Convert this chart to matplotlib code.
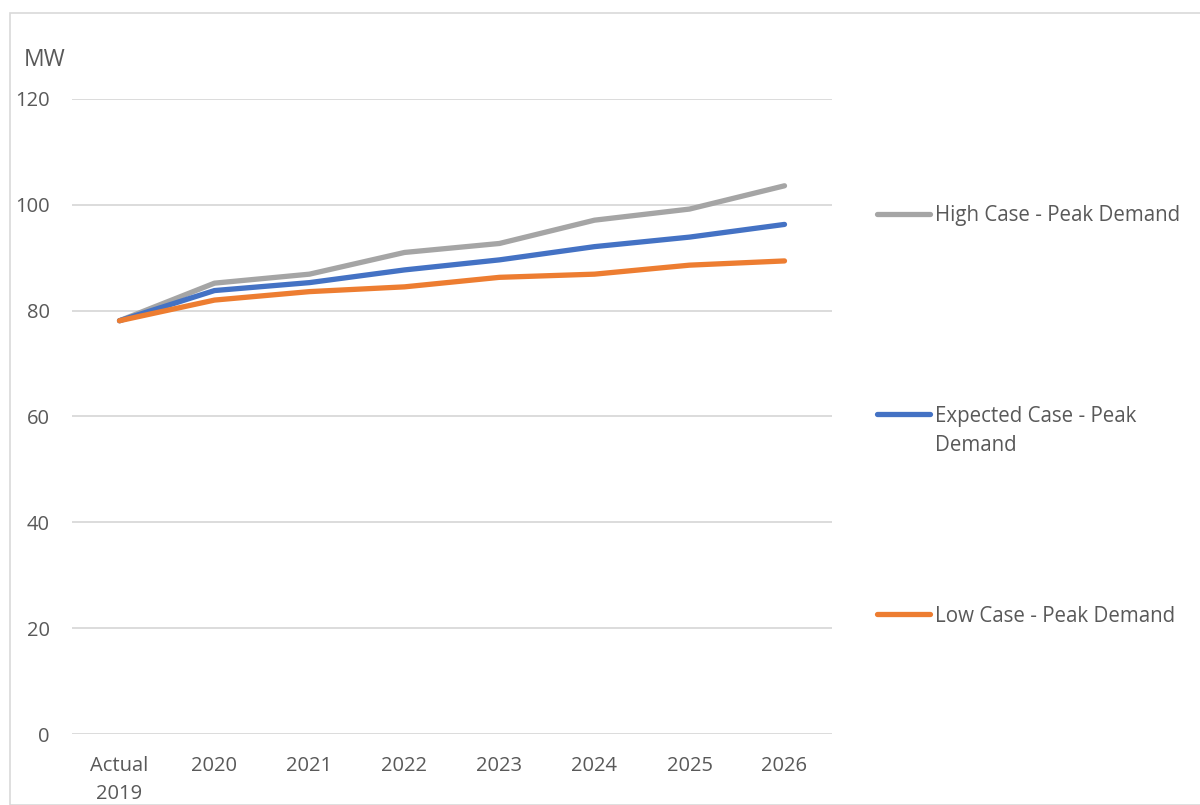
import matplotlib
matplotlib.use('Agg')
import matplotlib.pyplot as plt
from matplotlib.patches import Rectangle

plt.rcParams['font.family'] = ['Open Sans', 'DejaVu Sans']

categories = ['Actual\n2019', '2020', '2021', '2022', '2023', '2024', '2025', '2026']
high_case = [78.1, 85.2, 86.9, 91.0, 92.7, 97.1, 99.2, 103.6]
expected_case = [78.1, 83.8, 85.3, 87.7, 89.6, 92.1, 93.9, 96.3]
low_case = [78.1, 82.0, 83.6, 84.5, 86.3, 86.9, 88.6, 89.4]
y_ticks = [0, 20, 40, 60, 80, 100, 120]

txt_col = '#595959'
grid_col = '#D9D9D9'

fig = plt.figure(figsize=(12, 8.05), dpi=100)
# chart area border
fig.patches.append(Rectangle((10/1200, 0), 1.0, 1 - 13/805, transform=fig.transFigure,
                             fill=False, edgecolor=grid_col, linewidth=1.2))

ax = fig.add_axes([72/1200, 1 - 734/805, 760/1200, 635/805])
x = list(range(len(categories)))

l_high, = ax.plot(x, high_case, color='#A5A5A5', lw=3.8, solid_capstyle='round', zorder=3)
l_exp, = ax.plot(x, expected_case, color='#4472C4', lw=3.8, solid_capstyle='round', zorder=4)
l_low, = ax.plot(x, low_case, color='#ED7D31', lw=3.8, solid_capstyle='round', zorder=5)

ax.set_xlim(-0.5, len(categories) - 0.5)
ax.set_ylim(0, 120)
ax.set_yticks(y_ticks)
ax.set_xticks(x)
ax.set_xticklabels(categories, fontsize=14.5, color=txt_col, linespacing=1.55)
ax.tick_params(axis='y', labelsize=14.5, labelcolor=txt_col, length=0, pad=16)
ax.tick_params(axis='x', length=0, pad=16)
ax.grid(axis='y', color=grid_col, lw=1.3)
ax.set_axisbelow(True)
for s in ax.spines.values():
    s.set_visible(False)

fig.text(24/1200, 1 - 60/805, 'MW', fontsize=16.5, color=txt_col, va='center', ha='left')

# legend entries spread down the right side
entries = [(l_high, 'High Case - Peak Demand', 216),
           (l_exp, 'Expected Case - Peak', 416),
           (l_low, 'Low Case - Peak Demand', 616)]
legs = []
for h, lab, ypix in entries:
    leg = fig.legend(handles=[h], labels=[lab], loc='center left',
                     bbox_to_anchor=(877/1200, 1 - ypix/805), frameon=False,
                     fontsize=14.8, handlelength=2.6, handletextpad=0.2,
                     borderpad=0, borderaxespad=0)
    for t in leg.get_texts():
        t.set_color(txt_col)
    legs.append(leg)

# second line of the wrapped Expected label, lined up with its text
fig.canvas.draw()
bb = legs[1].get_texts()[0].get_window_extent()
fig.text(bb.x0 / 1200, 1 - 445/805, 'Demand', fontsize=14.8, color=txt_col,
         va='center', ha='left')

fig.savefig('out.png', dpi=100)
